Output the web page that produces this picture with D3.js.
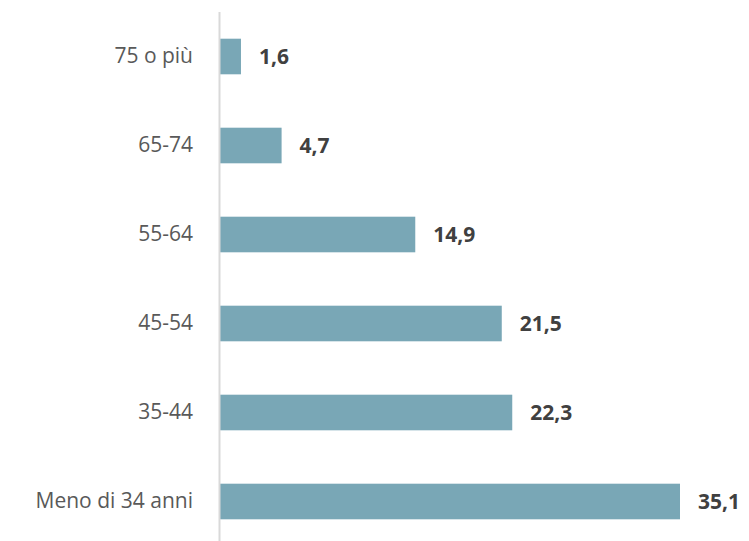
<!DOCTYPE html>
<html>
<head>
<meta charset="utf-8">
<script src="https://cdn.jsdelivr.net/npm/d3@7"></script>
<style>
  body { margin: 0; background: #fff; }
  svg { display: block; }
</style>
</head>
<body>
<div id="chart"></div>
<script>
// data, top to bottom
var categories = ["75 o più", "65-74", "55-64", "45-54", "35-44", "Meno di 34 anni"];
var values = [1.6, 4.7, 14.9, 21.5, 22.3, 35.1];
var valueLabels = ["1,6", "4,7", "14,9", "21,5", "22,3", "35,1"];

var svgWidth = 749;
var svgHeight = 541;

var margin = { top: 12, right: 10, bottom: -5, left: 219 };
var width = svgWidth - margin.left - margin.right;
var height = svgHeight - margin.top - margin.bottom;

var svg = d3.select("#chart")
    .append("svg")
    .attr("width", svgWidth)
    .attr("height", svgHeight);

var chartGroup = svg.append("g")
    .attr("transform", `translate(${margin.left}, ${margin.top})`);

var rows = categories.map(function(c, i) {
    return { cat: c, value: values[i], label: valueLabels[i] };
});

var xScale = d3.scaleLinear()
    .domain([0, 35.1])
    .range([1, 461]);

var yScale = d3.scaleBand()
    .domain(categories)
    .range([0, height])
    .paddingInner(0.6)
    .paddingOuter(0.3);

// bars
chartGroup.selectAll("rect.bar")
    .data(rows)
    .enter()
    .append("rect")
    .attr("class", "bar")
    .attr("x", xScale(0))
    .attr("y", d => yScale(d.cat))
    .attr("width", d => xScale(d.value) - xScale(0))
    .attr("height", yScale.bandwidth())
    .attr("fill", "#79a7b6");

// vertical axis line with category labels
var leftAxis = d3.axisLeft(yScale).tickSize(0).tickPadding(26);
var yAxisG = chartGroup.append("g").call(leftAxis);
yAxisG.select(".domain")
    .attr("d", `M0.5,0V${height}`)
    .attr("stroke", "#d9d9d9")
    .attr("stroke-width", 2);
yAxisG.selectAll("text")
    .attr("fill", "#595959")
    .style("font-family", "'Open Sans', sans-serif")
    .style("font-size", "21px");

// value labels
chartGroup.selectAll("text.val")
    .data(rows)
    .enter()
    .append("text")
    .attr("class", "val")
    .attr("x", d => xScale(d.value) + 18)
    .attr("y", d => yScale(d.cat) + yScale.bandwidth() / 2)
    .attr("dy", "0.35em")
    .attr("fill", "#404040")
    .style("font-family", "'Open Sans', sans-serif")
    .style("font-size", "21px")
    .style("font-weight", "bold")
    .text(d => d.label);
</script>
</body>
</html>
